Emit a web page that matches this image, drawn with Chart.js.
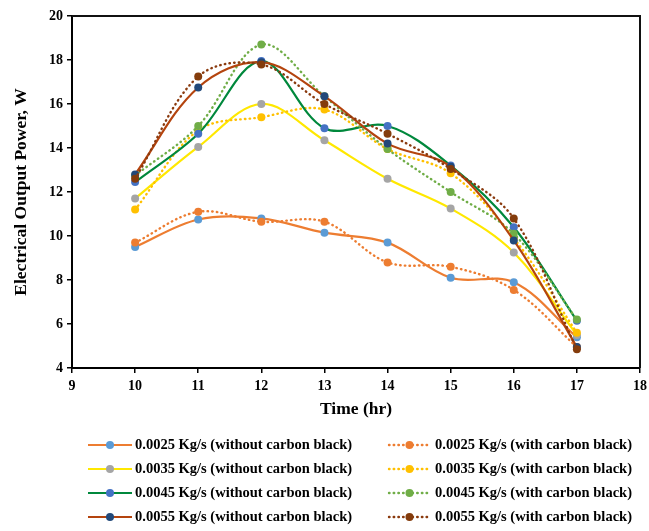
<!DOCTYPE html>
<html>
<head>
<meta charset="utf-8">
<script src="https://cdn.jsdelivr.net/npm/chart.js@4/dist/chart.umd.min.js"></script>
<style>
	body { margin: 0; background: #fff; }
	canvas { display: block; }
</style>
</head>
<body>
<canvas id="chart" width="649" height="531"></canvas>
<script>
	// time of day (hr)
	var hours = [10, 11, 12, 13, 14, 15, 16, 17];

	// electrical output power (W)
	var noCb0025 = [9.5, 10.75, 10.8, 10.15, 9.7, 8.1, 7.9, 5.4];
	var cb0025 = [9.7, 11.1, 10.65, 10.65, 8.8, 8.6, 7.55, 4.95];
	var noCb0035 = [11.7, 14.05, 16.0, 14.35, 12.6, 11.25, 9.25, 5.5];
	var cb0035 = [11.2, 14.8, 15.4, 15.75, 13.95, 12.85, 9.9, 5.6];
	var noCb0045 = [12.45, 14.65, 17.95, 14.9, 15.0, 13.2, 10.4, 6.15];
	var cb0045 = [12.75, 15.0, 18.7, 16.35, 13.95, 12.0, 10.1, 6.2];
	var noCb0055 = [12.8, 16.75, 17.9, 16.35, 14.2, 13.15, 9.8, 4.95];
	var cb0055 = [12.6, 17.25, 17.8, 16.0, 14.65, 13.05, 10.8, 4.85];

	var seriesNames = [
		'0.0025 Kg/s (without carbon black)', '0.0025 Kg/s (with carbon black)',
		'0.0035 Kg/s (without carbon black)', '0.0035 Kg/s (with carbon black)',
		'0.0045 Kg/s (without carbon black)', '0.0045 Kg/s (with carbon black)',
		'0.0055 Kg/s (without carbon black)', '0.0055 Kg/s (with carbon black)'
	];
	var seriesValues = [noCb0025, cb0025, noCb0035, cb0035, noCb0045, cb0045, noCb0055, cb0055];
	var lineColors = ['#ED7D31', '#ED7D31', '#FFE800', '#FFC000', '#00883C', '#70AD47', '#B4440E', '#8A3A0E'];
	var markerColors = ['#5B9BD5', '#ED7D31', '#A5A5A5', '#FFC000', '#4472C4', '#70AD47', '#22497A', '#843C0C'];

	var serif = '"Liberation Serif", "Times New Roman", serif';

	// legend layout (two columns, four rows)
	var legendIconX = [88, 389];
	var legendIconW = [44, 41];
	var legendTextX = [135, 435];
	var legendTop = 445;
	var legendRowGap = 24;

	function buildDatasets() {
		return seriesValues.map(function(values, i) {
			var dotted = (i % 2 == 1);
			return {
				label: seriesNames[i],
				data: values.map(function(v, j) {
					return { x: hours[j], y: v };
				}),
				borderColor: lineColors[i],
				borderWidth: dotted ? 2.4 : 2.2,
				borderDash: dotted ? [0.5, 4.2] : [],
				borderCapStyle: dotted ? 'round' : 'butt',
				pointBackgroundColor: markerColors[i],
				pointBorderColor: markerColors[i],
				pointBorderWidth: 0,
				pointRadius: 4,
				tension: 0.35,
				fill: false,
				order: seriesValues.length - 1 - i
			};
		});
	}

	var twoColumnLegend = {
		id: 'twoColumnLegend',
		afterDraw: function(chart) {
			var ctx = chart.ctx;
			ctx.save();
			ctx.font = 'bold 14.5px ' + serif;
			ctx.textBaseline = 'middle';
			chart.data.datasets.forEach(function(ds, i) {
				var col = i % 2;
				var y = legendTop + Math.floor(i / 2) * legendRowGap;
				var x = legendIconX[col];
				var w = legendIconW[col];

				ctx.strokeStyle = ds.borderColor;
				ctx.lineWidth = ds.borderWidth;
				ctx.lineCap = ds.borderCapStyle;
				ctx.setLineDash(ds.borderDash);
				ctx.beginPath();
				ctx.moveTo(x, y);
				ctx.lineTo(x + w, y);
				ctx.stroke();
				ctx.setLineDash([]);

				ctx.fillStyle = ds.pointBackgroundColor;
				ctx.beginPath();
				ctx.arc(x + w / 2, y, 4, 0, Math.PI * 2);
				ctx.fill();

				ctx.fillStyle = '#000';
				ctx.fillText(ds.label, legendTextX[col], y);
			});
			ctx.restore();
		}
	};

	// top and right edges of the plot box
	var plotFrame = {
		id: 'plotFrame',
		afterDraw: function(chart) {
			var a = chart.chartArea;
			var ctx = chart.ctx;
			ctx.save();
			ctx.strokeStyle = '#111';
			ctx.lineWidth = 2;
			ctx.beginPath();
			ctx.moveTo(a.left, a.top);
			ctx.lineTo(a.right, a.top);
			ctx.lineTo(a.right, a.bottom);
			ctx.stroke();
			ctx.restore();
		}
	};

	new Chart(document.getElementById('chart'), {
		type: 'line',
		data: { datasets: buildDatasets() },
		plugins: [plotFrame, twoColumnLegend],
		options: {
			responsive: false,
			animation: false,
			devicePixelRatio: 1,
			layout: { padding: { top: 16, right: 9, bottom: 103, left: 0 } },
			plugins: {
				legend: { display: false },
				tooltip: { enabled: false }
			},
			scales: {
				x: {
					type: 'linear',
					min: 9,
					max: 18,
					ticks: {
						stepSize: 1,
						padding: 5,
						color: '#000',
						font: { family: serif, size: 14, weight: 'bold' }
					},
					grid: { drawOnChartArea: false, tickLength: 5, color: '#000', lineWidth: 1.5 },
					border: { color: '#000', width: 2 },
					title: {
						display: true,
						text: 'Time (hr)',
						color: '#000',
						font: { family: serif, size: 17.5, weight: 'bold' },
						padding: { top: 0, bottom: 8.5 }
					},
					afterFit: function(scale) {
						scale.height = 60;
						// let the "18" label hang into the right margin
						scale.paddingRight = 0;
					}
				},
				y: {
					min: 4,
					max: 20,
					ticks: {
						stepSize: 2,
						padding: 4,
						color: '#000',
						font: { family: serif, size: 14, weight: 'bold' }
					},
					grid: { drawOnChartArea: false, tickLength: 5, color: '#000', lineWidth: 1.5 },
					border: { color: '#000', width: 2 },
					title: {
						display: true,
						text: 'Electrical Output Power, W',
						color: '#000',
						font: { family: serif, size: 17.5, weight: 'bold' },
						padding: { top: 10.5, bottom: 0 }
					},
					afterFit: function(scale) { scale.width = 72; }
				}
			}
		}
	});
</script>
</body>
</html>
